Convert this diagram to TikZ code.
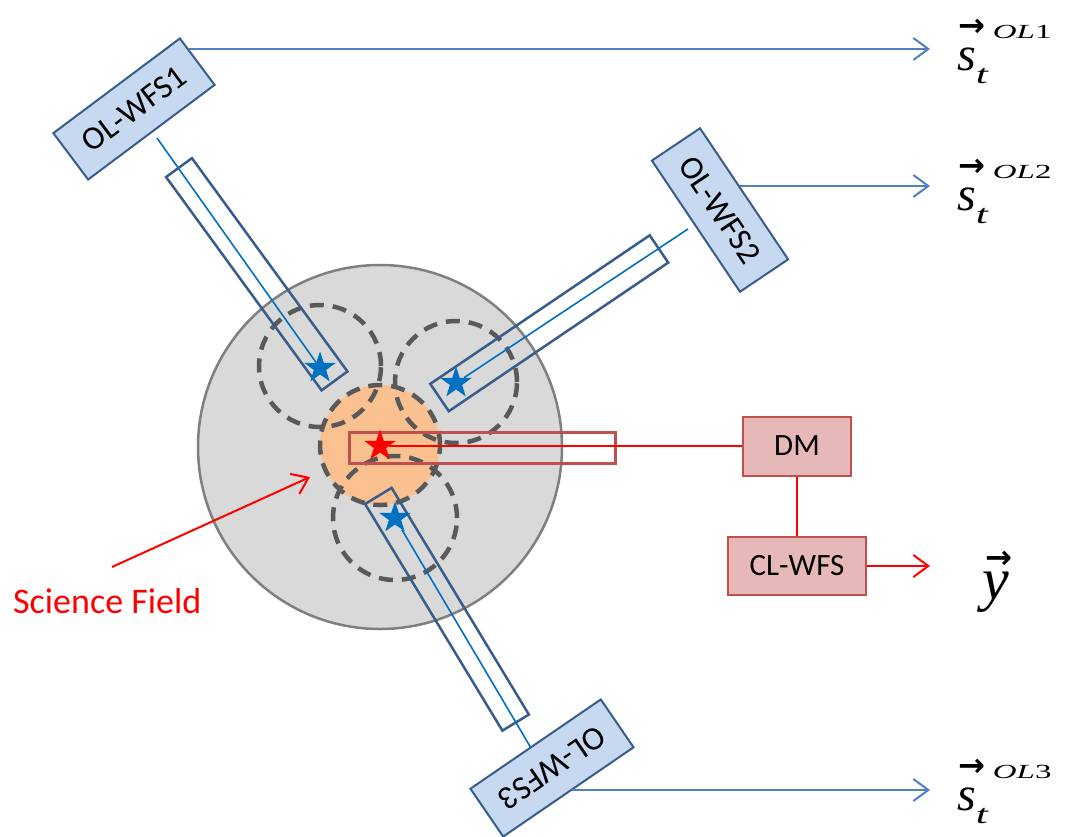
\documentclass[tikz,border=0pt]{standalone}
\usepackage{graphicx}
\usepackage{fontspec}
\setmainfont{Carlito}
\newfontfamily\tnr{Liberation Serif}
\newfontfamily\arrowfont{DejaVu Sans}
\usetikzlibrary{arrows.meta,shapes.geometric}
\definecolor{fieldgray}{HTML}{D9D9D9}
\definecolor{fieldedge}{HTML}{7F7F7F}
\definecolor{dashgray}{HTML}{595959}
\definecolor{orangefill}{HTML}{FAC090}
\definecolor{tubeblue}{HTML}{385D8A}
\definecolor{boxfill}{HTML}{C6D9F1}
\definecolor{beamblue}{HTML}{0070C0}
\definecolor{arrowblue}{HTML}{4F81BD}
\definecolor{pinkfill}{HTML}{E6B9B8}
\definecolor{rededge}{HTML}{C0504D}
\newcommand\vecarrow{\resizebox{27pt}{!}{\arrowfont\bfseries →}}
\newcommand\sveclabel[1]{{\tnr\itshape\fontsize{48}{48}\selectfont
\rlap{\hspace{1pt}\raisebox{34pt}{\vecarrow}}%
s\rlap{\raisebox{-13pt}{\scalebox{1.6}[1]{\fontsize{27}{27}\selectfont t}}}\hspace{17pt}%
\raisebox{32pt}{\scalebox{1.65}[1]{\fontsize{20}{20}\selectfont OL\upshape #1}}}}
\newcommand\yveclabel{{\tnr\itshape\fontsize{60}{60}\selectfont
\rlap{\hspace{3pt}\raisebox{31pt}{\vecarrow}}y}}
\begin{document}
\begin{tikzpicture}[x=1pt,y=-1pt,
  olbox/.style={draw=tubeblue, fill=boxfill, line width=2pt, inner sep=0pt,
    minimum width=158pt, minimum height=58pt, font=\fontsize{33}{38}\selectfont},
  tube/.style={draw=tubeblue, line width=2.5pt, inner sep=0pt, minimum height=32pt, minimum width=264pt},
  fov/.style={circle, draw=dashgray, line width=4.5pt, dash pattern=on 14pt off 9pt, inner sep=0pt},
  bstar/.style={star, star points=5, star point ratio=2.55, fill=beamblue, minimum size=33pt, inner sep=0pt},
  beam/.style={draw=beamblue, line width=1.6pt},
  redbox/.style={draw=rededge, fill=pinkfill, line width=2pt, inner sep=0pt, font=\fontsize{31}{36}\selectfont},
  barb/.style={-{Straight Barb[length=15pt,width=22pt]}},
  bluearrow/.style={draw=arrowblue, line width=2pt, barb},
  redline/.style={draw=red, line width=2pt},
  lbl/.style={anchor=base west, inner sep=0pt}]
\useasboundingbox (0,0) rectangle (1068,836);
\fill[white] (0,0) rectangle (1068,836);
% field of regard
\node[circle, fill=fieldgray, draw=fieldedge, line width=2.5pt, minimum size=364pt, inner sep=0pt] (field) at (380,447) {};
\node[fov, fill=orangefill, minimum size=120pt] (sci) at (380,445) {};
\node[fov, minimum size=122pt] (f1) at (320,366) {};
\node[fov, minimum size=122pt] (f2) at (456,382) {};
\node[fov, minimum size=124pt] (f3) at (395,518) {};
% tubes
\node[tube, rotate=-53.9] (t1) at (256.75,274.25) {};
\node[tube, rotate=34.1, minimum height=33pt, minimum width=265pt] (t2) at (549.25,323.25) {};
\node[tube, rotate=-58.8, minimum height=31pt, minimum width=265pt] (t3) at (447,609.25) {};
% OL-WFS boxes
\node[olbox, rotate=36.8] (w1) at (134,109) {OL-WFS1};
\node[olbox, rotate=-56.1] (w2) at (720,210) {OL-WFS2};
\node[olbox, rotate=214.4] (w3) at (552,768) {OL-WFS3};
% stars
\node[bstar] (s1) at (320,368) {};
\node[bstar] (s2) at (456,383) {};
\node[bstar] (s3) at (395,518) {};
% beams
\coordinate (b1) at (157,138);
\coordinate (b2) at (688,229);
\coordinate (b3) at (531,748);
\draw[beam] (b1) -- (s1);
\draw[beam] (s2) -- (b2);
\draw[beam] (s3) -- (b3);
% science path
\node[draw=rededge, line width=3pt, minimum width=266pt, minimum height=31pt, inner sep=0pt] (dmr) at (482,447.5) {};
\node[star, star points=5, star point ratio=2.55, fill=red, minimum size=33pt, inner sep=0pt] (rs) at (380,446) {};
\node[redbox, minimum width=108pt, minimum height=59pt] (dm) at (797,446) {DM};
\node[redbox, minimum width=138pt, minimum height=58pt] (cl) at (797,566) {CL-WFS};
\draw[redline] (rs) -- (dm);
\draw[redline] (dm) -- (cl);
\coordinate (ye) at (930,566);
\draw[redline, barb] (cl) -- (ye);
% output labels
\node[lbl] (o1) at (957,70) {\sveclabel{1}};
\node[lbl] (o2) at (957,210) {\sveclabel{2}};
\node[lbl] (o3) at (957,810) {\sveclabel{3}};
\node[lbl] (oy) at (982,599) {\yveclabel};
% output arrows
\coordinate (a1) at (189,49);  \coordinate (e1) at (930,49);
\coordinate (a2) at (740,186); \coordinate (e2) at (930,186);
\coordinate (a3) at (572,790); \coordinate (e3) at (930,790);
\draw[bluearrow] (a1) -- (e1);
\draw[bluearrow] (a2) -- (e2);
\draw[bluearrow] (a3) -- (e3);
% science field
\node[lbl, text=red, font=\fontsize{36}{40}\selectfont] (sf) at (13,613) {Science Field};
\coordinate (sfa) at (112,567);
\coordinate (sfb) at (310,477);
\draw[redline, barb] (sfa) -- (sfb);
\end{tikzpicture}
\end{document}
